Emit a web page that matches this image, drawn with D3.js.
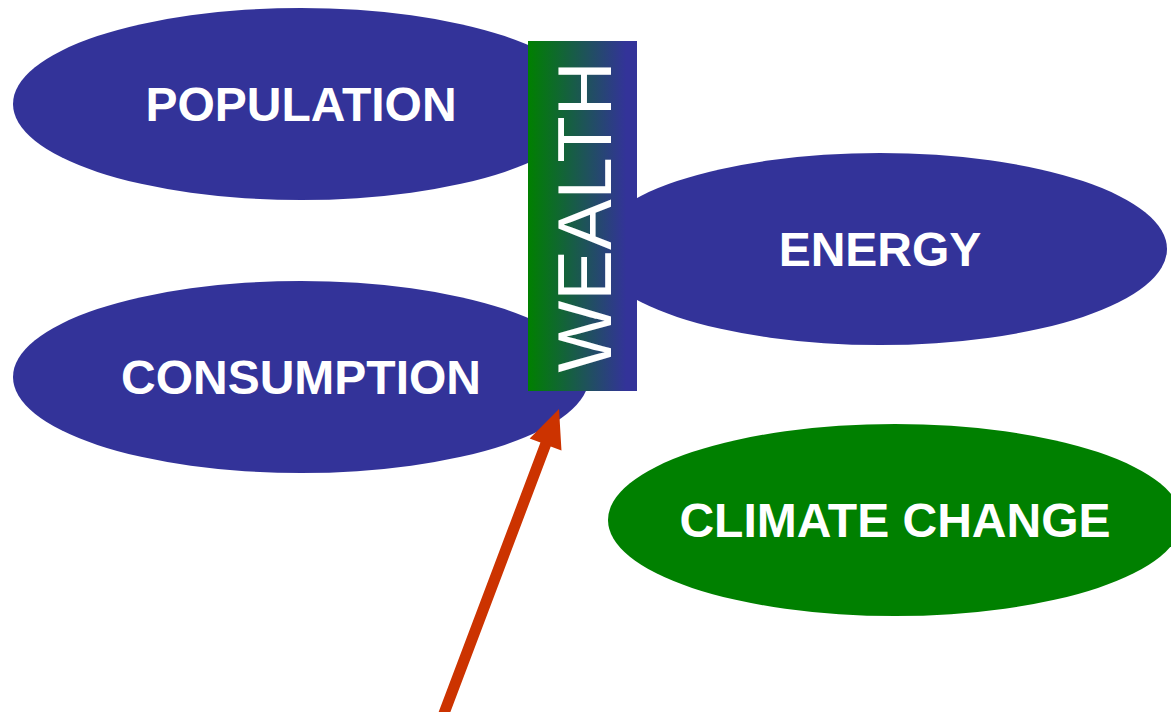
<!DOCTYPE html>
<html>
<head>
<meta charset="utf-8">
<script src="https://cdn.jsdelivr.net/npm/d3@7"></script>
<style>
  body { margin: 0; background: #fff; }
  svg { display: block; }
</style>
</head>
<body>
<svg width="1171" height="712"></svg>
<script>
// labels and which fill each bubble uses
const labels = ['POPULATION', 'ENERGY', 'CONSUMPTION', 'CLIMATE CHANGE'];
const kinds = ['driver', 'driver', 'driver', 'impact'];
const centerLabel = 'WEALTH';

const colors = { driver: '#333399', impact: '#008000', arrow: '#cc3300' };

// layout (pixels)
const layout = [
  { cx: 301, cy: 104, rx: 288, ry: 96 },
  { cx: 880, cy: 249, rx: 287, ry: 96 },
  { cx: 301, cy: 377, rx: 288, ry: 96 },
  { cx: 895, cy: 520, rx: 287, ry: 96 }
];

const svg = d3.select('svg');

const defs = svg.append('defs');
const grad = defs.append('linearGradient')
  .attr('id', 'wealthGrad')
  .attr('x1', '0%').attr('x2', '100%')
  .attr('y1', '0%').attr('y2', '0%');
grad.append('stop').attr('offset', '0%').attr('stop-color', '#008000');
grad.append('stop').attr('offset', '90%').attr('stop-color', '#333399');

const bubbles = svg.selectAll('.bubble')
  .data(labels)
  .enter()
  .append('g')
  .classed('bubble', true);

bubbles.append('ellipse')
  .attr('cx', (d, i) => layout[i].cx)
  .attr('cy', (d, i) => layout[i].cy)
  .attr('rx', (d, i) => layout[i].rx)
  .attr('ry', (d, i) => layout[i].ry)
  .attr('fill', (d, i) => colors[kinds[i]]);

bubbles.append('text')
  .attr('x', (d, i) => layout[i].cx)
  .attr('y', (d, i) => layout[i].cy + 17)
  .attr('text-anchor', 'middle')
  .attr('fill', '#fff')
  .style('font-family', '"Liberation Sans", Arial, sans-serif')
  .style('font-weight', 'bold')
  .style('font-size', '48px')
  .text(d => d);

// wealth bar
svg.append('rect')
  .attr('x', 528)
  .attr('y', 41)
  .attr('width', 109)
  .attr('height', 350)
  .attr('fill', 'url(#wealthGrad)');

svg.append('text')
  .attr('transform', 'translate(611,217) rotate(-90)')
  .attr('text-anchor', 'middle')
  .attr('fill', '#fff')
  .style('font-family', '"Liberation Sans", Arial, sans-serif')
  .style('font-size', '76px')
  .text(centerLabel);

// arrow
const tail = [443, 716], tip = [559, 409];
const ang = Math.atan2(tip[1] - tail[1], tip[0] - tail[0]);
const headLen = 38, headHalf = 17, shaftHalf = 5.5;
const ux = Math.cos(ang), uy = Math.sin(ang);
const px = -uy, py = ux;
const base = [tip[0] - ux * headLen, tip[1] - uy * headLen];
const pts = [
  [tail[0] + px * shaftHalf, tail[1] + py * shaftHalf],
  [base[0] + px * shaftHalf, base[1] + py * shaftHalf],
  [base[0] + px * headHalf, base[1] + py * headHalf],
  tip,
  [base[0] - px * headHalf, base[1] - py * headHalf],
  [base[0] - px * shaftHalf, base[1] - py * shaftHalf],
  [tail[0] - px * shaftHalf, tail[1] - py * shaftHalf]
];
svg.append('path')
  .attr('d', d3.line()(pts) + 'Z')
  .attr('fill', colors.arrow);
</script>
</body>
</html>
